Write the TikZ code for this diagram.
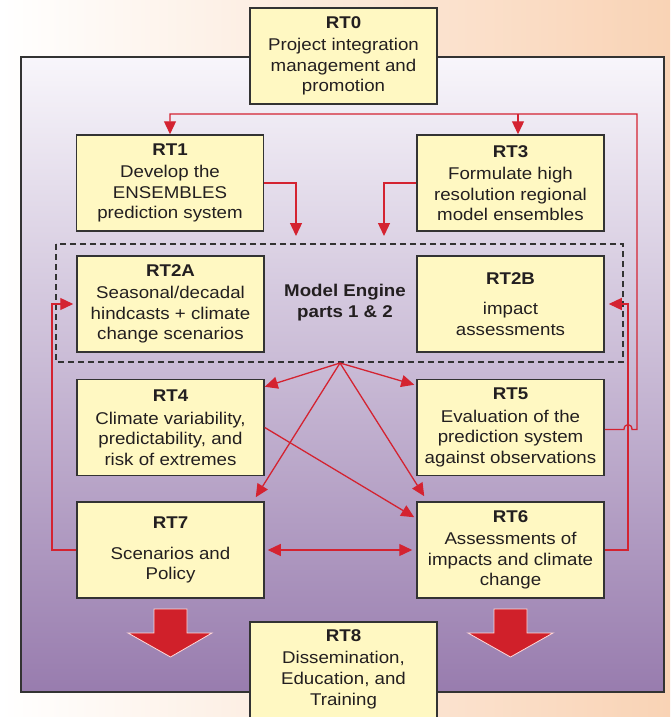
\documentclass[tikz,border=0pt]{standalone}
\usepackage{fontspec}
\setmainfont{Liberation Sans}[FakeStretch=1.1]
\usetikzlibrary{arrows.meta}
\definecolor{boxfill}{HTML}{FFF8C2}
\definecolor{boxline}{HTML}{333333}
\definecolor{ink}{HTML}{231F20}
\definecolor{redl}{HTML}{D42331}
\definecolor{peach}{HTML}{F9D3B5}
\definecolor{lavtop}{HTML}{F8F6FB}
\definecolor{lavbot}{HTML}{987CAE}
\definecolor{bigred}{HTML}{D0202A}
\tikzset{
  rtbox/.style={draw=boxline, line width=1.5pt, fill=boxfill, minimum width=187pt,
    minimum height=96pt, inner sep=0pt, align=center, text=ink,
    font=\fontsize{17}{20.5}\selectfont},
  link/.style={draw=redl, line width=1.3pt},
  tip/.style={-{Triangle[length=13pt,width=12pt]}},
  bigarrow/.style={fill=bigred, draw=white!85!red, line width=0.8pt},
}
\begin{document}
\begin{tikzpicture}[x=1pt,y=-1pt]
\useasboundingbox (0,0) rectangle (670,717);
\clip (0,0) rectangle (670,717);
% backgrounds
\shade[left color=white, right color=peach] (0,0) rectangle (670,717);
\shade[top color=lavtop, bottom color=lavbot] (21,57) rectangle (664,692);
\draw[boxline, line width=1.5pt] (21,57) rectangle (664,692);
% dashed model engine frame
\draw[boxline, line width=1.2pt, dash pattern=on 6pt off 4pt] (56,244) rectangle (623,362);
\node[align=center, font=\fontsize{17}{21}\selectfont\bfseries, text=ink] (me) at (345,303) {Model Engine\\parts 1 \& 2};
% boxes
\node[rtbox] (rt0) at (343.5,56) {\textbf{RT0}\\[2pt]Project integration\\management and\\promotion};
\node[rtbox] (rt1) at (170,183) {\textbf{RT1}\\[2pt]Develop the\\ENSEMBLES\\prediction system};
\node[rtbox] (rt3) at (510.5,183) {\textbf{RT3}\\[2pt]Formulate high\\resolution regional\\model ensembles};
\node[rtbox] (rt2a) at (170.5,304) {\textbf{RT2A}\\[2pt]Seasonal/decadal\\hindcasts + climate\\change scenarios};
\node[rtbox] (rt2b) at (510.5,304) {\textbf{RT2B}\\[10pt]impact\\assessments};
\node[rtbox] (rt4) at (170.5,427.5) {\textbf{RT4}\\[2pt]Climate variability,\\predictability, and\\risk of extremes};
\node[rtbox] (rt5) at (510.5,427.5) {\textbf{RT5}\\[2pt]Evaluation of the\\prediction system\\against observations};
\node[rtbox] (rt7) at (170.5,550) {\textbf{RT7}\\[10pt]Scenarios and\\Policy};
\node[rtbox] (rt6) at (510.5,550) {\textbf{RT6}\\[2pt]Assessments of\\impacts and climate\\change};
\draw[boxline, line width=1.5pt, fill=boxfill] (250,622) rectangle (437,740);
\node[align=center, inner sep=0pt, text=ink, font=\fontsize{17}{21}\selectfont] (rt8) at (343.5,669) {\textbf{RT8}\\[1pt]Dissemination,\\Education, and\\Training};
% big red arrows
\draw[bigarrow] (154,609) -- (187,609) -- (187,633) -- (212,633) -- (170.5,657) -- (128,633) -- (154,633) -- cycle;
\draw[bigarrow] (494,609) -- (527,609) -- (527,633) -- (553,633) -- (510.5,657) -- (468,633) -- (494,633) -- cycle;
% feedback from RT5 to RT1 and RT3
\coordinate (topR) at (637,114);
\coordinate (t3) at (518,114);
\draw[link,tip] ([yshift=-2pt]rt5.east) -- (624,429.5) .. controls (624,423) and (632,423) .. (632,429.5) -- (637,429.5) -- (topR) -- (rt1.north |- topR) -- (rt1.north);
\draw[link,tip] (t3) -- (t3 |- rt3.north);
% RT1, RT3 into engine
\draw[link,tip] (rt1.east) -- (296,183) -- (296,236);
\draw[link,tip] (rt3.west) -- (384,183) -- (384,236);
% loops back to engine
\draw[link,tip,shorten >=3pt] (rt7.west) -- (52,550) -- (52,304) -- (rt2a.west);
\draw[link,tip,shorten >=4pt] (rt6.east) -- (628,550) -- (628,304) -- (rt2b.east);
\draw[link,{Triangle[length=13pt,width=12pt]}-{Triangle[length=13pt,width=12pt]},shorten <=3pt,shorten >=4pt] (rt7.east) -- (rt6.west);
% hub arrows
\coordinate (hub) at (340,363);
\draw[link,tip] (hub) -- ([yshift=-8pt]rt4.north east);
\draw[link,tip] (hub) -- ([yshift=-6pt,xshift=-2pt]rt5.north west);
\draw[link,tip] (hub) -- ([xshift=-9pt,yshift=4pt]rt7.north east);
\draw[link,tip] (hub) -- ([xshift=8pt,yshift=5pt]rt6.north west);
\draw[link,tip] (rt4.east) -- ([xshift=-2pt,yshift=-16pt]rt6.north west);
\end{tikzpicture}
\end{document}
